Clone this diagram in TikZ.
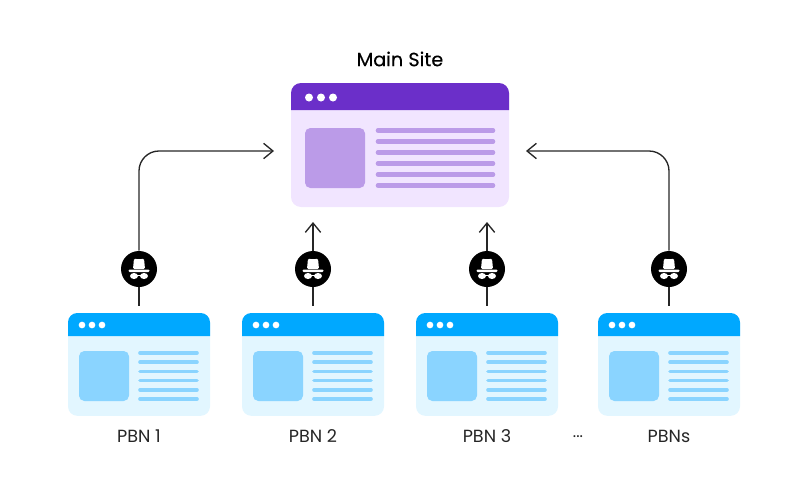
\documentclass[tikz,border=0pt]{standalone}
\usepackage{fontspec}
\setmainfont{Poppins}
\usetikzlibrary{arrows.meta}
\definecolor{mainhead}{HTML}{6B2FC9}
\definecolor{mainbody}{HTML}{F1E5FF}
\definecolor{mainline}{HTML}{BB9BE8}
\definecolor{pbnhead}{HTML}{00A8FF}
\definecolor{pbnbody}{HTML}{E2F6FF}
\definecolor{pbnline}{HTML}{8AD4FF}
\tikzset{
  mainbox/.style={fill=mainbody, rounded corners=7.5pt, minimum width=163.5pt, minimum height=93pt, inner sep=0pt},
  pbnbox/.style={fill=pbnbody, rounded corners=7pt, minimum width=106.5pt, minimum height=77pt, inner sep=0pt, outer sep=5.5pt},
  hatbadge/.style={circle, fill=black, minimum size=27pt, inner sep=0pt},
  link/.style={line width=1pt, black!85},
  linkto/.style={link, -{Straight Barb[length=7pt,width=11.5pt,line width=1pt]}},
  pbnlabel/.style={font=\fontsize{13.2pt}{15pt}\selectfont, text=black!85, inner sep=0pt},
}
\begin{document}
\begin{tikzpicture}[x=.75pt,y=-.75pt]
\useasboundingbox (0,0) rectangle (800,493);

% main window
\node[mainbox] (main) at (400,145) {};
\fill[mainhead, rounded corners=7.5pt] (291,110) -- (291,83) -- (509,83) [sharp corners] -- (509,110) -- cycle;
\foreach \x in {309,321,333}
  \fill[white] (\x,97.5) circle (3pt);
\fill[mainline, rounded corners=4pt] (305,128) rectangle (365,188);
\foreach \y in {130.5,141.5,...,186}
  \draw[mainline, line width=3.4pt, line cap=round] (378,\y) -- (493,\y);
\node[font=\fontsize{14.4pt}{18pt}\selectfont\addfontfeature{FakeBold=0.3}, inner sep=0pt] (mainlabel) at (400,59) {Main Site};

% pbn windows
\foreach \n/\x/\t in {1/139/PBN 1,2/313/PBN 2,3/487/PBN 3,4/669/PBNs}{
  \node[pbnbox] (pbn\n) at (\x,364.5) {};
  \begin{scope}[shift={(\x-71,0)}]
    \fill[pbnhead, rounded corners=7pt] (0,336) -- (0,313) -- (142,313) [sharp corners] -- (142,336) -- cycle;
    \foreach \d in {14,24,34}
      \fill[white] (\d,325) circle (2.5pt);
    \fill[pbnline, rounded corners=4pt] (11,351) rectangle (61,401);
    \foreach \y in {353,362.2,...,400}
      \draw[pbnline, line width=2.7pt, line cap=round] (72,\y) -- (129,\y);
  \end{scope}
  \node[pbnlabel] (label\n) at (\x,436) {\t};
  \node[hatbadge] (hat\n) at (\x,269) {};
  % spy icon
  \begin{scope}[shift={(\x,269)}]
    \fill[white, rounded corners=1pt] (-6,0) -- (-5,-10.5) -- (0,-9.5) -- (5,-10.5) -- (6,0) -- cycle;
    \fill[white, rounded corners=.8pt] (-10.5,.5) rectangle (10.5,3);
    \fill[white] (-5,7) ellipse (4 and 3);
    \fill[white] (5,7) ellipse (4 and 3);
    \draw[white, line width=.6pt] (-5,6) -- (5,6);
  \end{scope}
}
\node[pbnlabel, font=\fontsize{12pt}{14pt}\selectfont] (dots) at (578,437) {...};

% arrow ends at main window
\coordinate (mainL) at (274,151);
\coordinate (mainR) at (526,151);
\coordinate (main2) at (313,222);
\coordinate (main3) at (487,222);

% connectors
\foreach \n in {1,2,3,4}
  \draw[link] (pbn\n.north) -- (hat\n);
\draw[linkto, rounded corners=15pt] (hat1) |- (mainL);
\draw[linkto, rounded corners=15pt] (hat4) |- (mainR);
\draw[linkto] (hat2) -- (main2);
\draw[linkto] (hat3) -- (main3);
\end{tikzpicture}
\end{document}
